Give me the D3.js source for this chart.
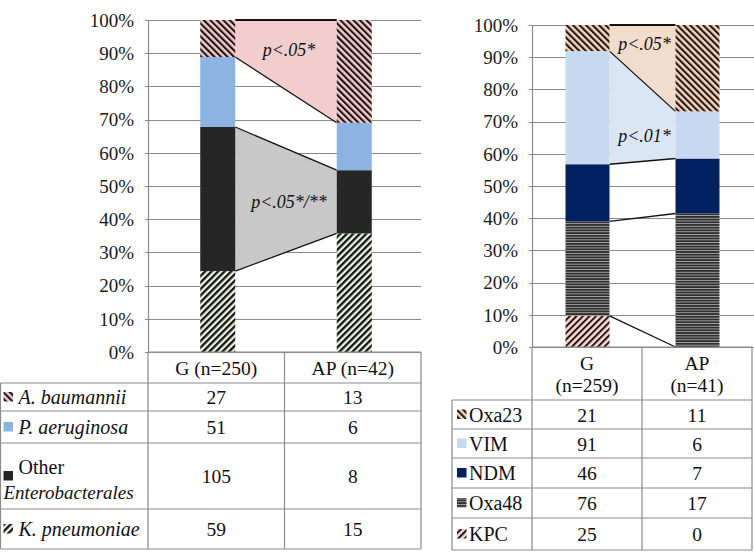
<!DOCTYPE html>
<html><head><meta charset="utf-8">
<script src="https://cdn.jsdelivr.net/npm/d3@7"></script>
<style>html,body{margin:0;padding:0;background:#fff}svg{display:block}</style>
</head><body>
<svg id="c" width="754" height="553"></svg>
<script>
// ---------- DATA ----------
const leftCategories = ["G (n=250)", "AP (n=42)"];
const leftSeries = ["K. pneumoniae", "Other Enterobacterales", "P. aeruginosa", "A. baumannii"];
const leftG = [59, 105, 51, 27];
const leftAP = [15, 8, 6, 13];

const rightCategories = ["G\n(n=259)", "AP\n(n=41)"];
const rightSeries = ["KPC", "Oxa48", "NDM", "VIM", "Oxa23"];
const rightG = [25, 76, 46, 91, 21];
const rightAP = [0, 17, 7, 6, 11];

const yTickValues = [0, 0.1, 0.2, 0.3, 0.4, 0.5, 0.6, 0.7, 0.8, 0.9, 1.0];

const leftAnnotations = [["A. baumannii", "p<.05*"], ["Other Enterobacterales", "p<.05*/**"]];
const rightAnnotations = [["Oxa23", "p<.05*"], ["VIM", "p<.01*"]];

// ---------- STYLE ----------
const svg = d3.select("#c");
const SERIF = "'Liberation Serif','Times New Roman',serif";
const GRID = "#8a8a8a";
const defs = svg.append("defs");
function hatch(id, bg, fg, size, sw, angle) {
  const p = defs.append("pattern").attr("id", id).attr("patternUnits", "userSpaceOnUse")
    .attr("width", size).attr("height", size).attr("patternTransform", `rotate(${angle})`);
  p.append("rect").attr("width", size).attr("height", size).attr("fill", bg);
  if (angle === 0) {
    p.append("rect").attr("x", 0).attr("y", 0).attr("width", size).attr("height", sw).attr("fill", fg);
  } else {
    p.append("rect").attr("x", 0).attr("y", 0).attr("width", sw).attr("height", size).attr("fill", fg);
  }
}
hatch("pAb", "#f3c9c9", "#1c1416", 4.6, 2.1, -45);
hatch("pKp", "#eef3e4", "#141414", 4.6, 2.3, 45);
hatch("pOxa23", "#f2d6c2", "#2a1712", 4.6, 2.1, -45);
hatch("pKPC", "#f6d8d3", "#2c1414", 4.6, 2.0, 45);
hatch("pOxa48", "#a8a8a8", "#2e2e2e", 2.7, 1.8, 0);

const fills = {
  "A. baumannii": "url(#pAb)", "P. aeruginosa": "#8db3e2", "Other Enterobacterales": "#262626",
  "K. pneumoniae": "url(#pKp)",
  "Oxa23": "url(#pOxa23)", "VIM": "#c6d9f1", "NDM": "#002060", "Oxa48": "url(#pOxa48)", "KPC": "url(#pKPC)"
};
const bandFills = {
  "A. baumannii": "#f2cdcd", "Other Enterobacterales": "#c8c8c8",
  "Oxa23": "#f2dccb", "VIM": "#dbe6f4"
};
const italicSeries = new Set(["A. baumannii", "P. aeruginosa", "K. pneumoniae"]);

svg.append("rect").attr("width", 754).attr("height", 553).attr("fill", "#fff");

function drawChart(cfg) {
  const rows = cfg.cats.map((c, i) => {
    const o = { cat: c };
    cfg.series.forEach((s, j) => o[s] = cfg.vals[i][j]);
    return o;
  });
  const stack = d3.stack().keys(cfg.series).offset(d3.stackOffsetExpand)(rows);
  const y = d3.scaleLinear().domain([0, 1]).range([cfg.y0, cfg.y1]);
  const x = d3.scaleBand().domain(cfg.cats).range([cfg.xL, cfg.xR]).paddingInner(0).paddingOuter(0);
  const bw = cfg.barW;
  const cx = c => x(c) + x.bandwidth() / 2 + cfg.barShift;
  const g = svg.append("g");

  // gridlines
  g.selectAll(".grid").data(yTickValues).join("line")
    .attr("x1", cfg.xL - 3).attr("x2", cfg.gridEnd)
    .attr("y1", d => Math.round(y(d)) + 0.5).attr("y2", d => Math.round(y(d)) + 0.5)
    .attr("stroke", GRID).attr("stroke-width", 1.2);

  const a = cfg.cats[0], b = cfg.cats[1];
  const xa = cx(a) + bw / 2, xb = cx(b) - bw / 2;
  // connecting bands
  stack.forEach(layer => {
    if (!bandFills[layer.key]) return;
    const A = layer[0], B = layer[1];
    g.append("path")
      .attr("d", `M${xa},${y(A[1])}L${xb},${y(B[1])}L${xb},${y(B[0])}L${xa},${y(A[0])}Z`)
      .attr("fill", bandFills[layer.key]);
  });
  // connecting lines (top of each series)
  stack.forEach((layer, i) => {
    const A = layer[0], B = layer[1];
    if (A[1] === A[0] && B[1] === B[0]) return;
    g.append("line").attr("x1", xa).attr("x2", xb)
      .attr("y1", y(A[1])).attr("y2", y(B[1]))
      .attr("stroke", "#111").attr("stroke-width", i === stack.length - 1 ? 2.2 : 1.3);
  });
  // bars
  stack.forEach(layer => {
    g.selectAll(null).data(layer).join("rect")
      .attr("x", d => cx(d.data.cat) - bw / 2)
      .attr("width", bw)
      .attr("y", d => y(d[1]))
      .attr("height", d => Math.max(0, y(d[0]) - y(d[1])))
      .attr("fill", fills[layer.key]);
  });
  // axis line
  g.append("line").attr("x1", cfg.xL + 0.5).attr("x2", cfg.xL + 0.5)
    .attr("y1", y(1)).attr("y2", y(0)).attr("stroke", GRID).attr("stroke-width", 1.2);
  // tick labels
  const fmt = d3.format(".0%");
  g.selectAll(".tl").data(yTickValues).join("text")
    .attr("x", cfg.labelX).attr("y", d => y(d)).attr("dy", "0.36em")
    .attr("text-anchor", "end").attr("font-family", SERIF).attr("font-size", 19)
    .attr("fill", "#1a1a1a").text(d => fmt(d));
  // annotations
  cfg.ann.forEach(([key, txt], k) => {
    const layer = stack.find(l => l.key === key);
    const mid = ((layer[0][1] + layer[1][1]) / 2 + (layer[0][0] + layer[1][0]) / 2) / 2;
    g.append("text").attr("x", (xa + xb) / 2 + cfg.annDx[k]).attr("y", y(mid + cfg.annDy[k]))
      .attr("dy", "0.35em").attr("text-anchor", "middle")
      .attr("font-family", SERIF).attr("font-style", "italic").attr("font-size", 18)
      .attr("fill", "#111").text(txt);
  });

  // ---------- table ----------
  const t = svg.append("g");
  const T = cfg.table;
  const line = (x1, y1, x2, y2) => t.append("line").attr("x1", x1).attr("y1", y1).attr("x2", x2).attr("y2", y2)
    .attr("stroke", GRID).attr("stroke-width", 1.2);
  const colX = [cfg.xL, x(b), cfg.xR];
  line(cfg.xL, T.headTop, cfg.xR, T.headTop);
  colX.forEach(cxx => line(cxx, T.headTop, cxx, T.rowY[T.rowY.length - 1]));
  line(T.left, T.rowY[0], T.left, T.rowY[T.rowY.length - 1]);
  T.rowY.forEach(yy => line(T.left, yy, cfg.xR, yy));
  cfg.cats.forEach(c => {
    const parts = c.split("\n");
    const h = T.rowY[0] - T.headTop;
    parts.forEach((p, k) => {
      t.append("text").attr("x", x(c) + x.bandwidth() / 2)
        .attr("y", T.headTop + h / 2 + (k - (parts.length - 1) / 2) * 22).attr("dy", "0.36em")
        .attr("text-anchor", "middle").attr("font-family", SERIF).attr("font-size", 19.5)
        .attr("fill", "#111").text(p);
    });
  });
  const order = cfg.series.slice().reverse();
  order.forEach((s, r) => {
    const yTop = T.rowY[r], yBot = T.rowY[r + 1], ym = (yTop + yBot) / 2;
    const j = cfg.series.indexOf(s);
    t.append("rect").attr("x", T.left + T.swX).attr("y", ym - 5).attr("width", 9.5).attr("height", 9.5)
      .attr("fill", fills[s]);
    if (s === "Other Enterobacterales") {
      t.append("text").attr("x", T.left + T.textX).attr("y", ym - 9).attr("dy", "0.36em")
        .attr("font-family", SERIF).attr("font-size", 20).attr("fill", "#111").text("Other");
      t.append("text").attr("x", T.left + 3).attr("y", ym + 16).attr("dy", "0.36em")
        .attr("font-family", SERIF).attr("font-style", "italic").attr("font-size", 19).attr("fill", "#111")
        .text("Enterobacterales");
    } else {
      t.append("text").attr("x", T.left + T.textX).attr("y", ym).attr("dy", "0.36em")
        .attr("font-family", SERIF).attr("font-size", 20)
        .attr("font-style", italicSeries.has(s) ? "italic" : "normal")
        .attr("fill", "#111").text(s);
    }
    cfg.cats.forEach((c, i) => {
      t.append("text").attr("x", x(c) + x.bandwidth() / 2).attr("y", ym).attr("dy", "0.36em")
        .attr("text-anchor", "middle").attr("font-family", SERIF).attr("font-size", 19.5)
        .attr("fill", "#111").text(cfg.vals[i][j]);
    });
  });
}

drawChart({
  cats: leftCategories, series: leftSeries, vals: [leftG, leftAP],
  y0: 352, y1: 20, xL: 148, xR: 421, gridEnd: 421, barW: 35, barShift: 1.5, labelX: 134,
  ann: leftAnnotations, annDx: [3, 3], annDy: [0.015, -0.005],
  table: { headTop: 352, rowY: [383, 411, 443, 509, 549], left: 0.5, swX: 3, textX: 18 }
});
drawChart({
  cats: rightCategories, series: rightSeries, vals: [rightG, rightAP],
  y0: 347, y1: 25, xL: 532, xR: 752, gridEnd: 754, barW: 44, barShift: 0.5, labelX: 518,
  ann: rightAnnotations, annDx: [2, 2], annDy: [0.03, -0.045],
  table: { headTop: 347, rowY: [400, 429, 458, 488, 518, 550], left: 452, swX: 5, textX: 17 }
});
</script>
</body></html>
